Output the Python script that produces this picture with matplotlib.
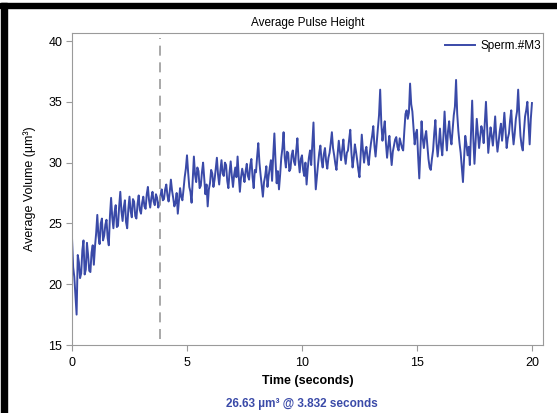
import numpy as np
import matplotlib.pyplot as plt
from matplotlib.patches import Rectangle

plt.rcParams['font.family'] = ['Liberation Sans', 'DejaVu Sans']

volume = [
    23.8, 21.4, 20.6, 19.0, 17.5, 22.4, 21.8, 20.5, 20.9, 22.8, 23.6, 20.8, 21.2, 23.4, 22.4, 21.1, 21.0, 22.6, 23.2, 21.6,
    23.1, 24.2, 25.7, 24.0, 23.3, 25.0, 25.4, 23.6, 24.0, 24.9, 25.3, 23.8, 23.2, 25.6, 27.1, 25.5, 24.6, 25.9, 26.5, 24.7,
    24.8, 26.4, 27.6, 26.0, 25.2, 26.3, 26.9, 25.1, 24.6, 26.2, 27.2, 26.0, 25.5, 27.0, 26.8, 25.6, 25.4, 26.6, 27.3, 26.1,
    25.8, 26.7, 27.2, 26.4, 26.2, 27.4, 28.0, 26.9, 26.3, 27.1, 27.6, 26.8, 26.5, 27.4, 27.1, 26.3, 26.6, 27.3, 27.8, 26.9,
    27.0, 27.8, 28.2, 27.3, 26.8, 27.6, 28.6, 27.7, 27.1, 26.4, 26.7, 27.5, 25.8, 26.9, 27.9, 27.2, 26.9, 27.8, 28.8, 29.5,
    30.6, 29.2, 28.0, 27.6, 26.7, 28.6, 30.5, 29.0, 28.4, 29.6, 29.3, 27.9, 28.1, 29.2, 30.0, 28.7, 27.4, 28.2, 26.4, 27.8,
    28.3, 29.4, 29.1, 28.0, 28.6, 29.5, 30.4, 29.0, 28.2, 29.3, 30.2, 29.1, 28.9, 30.0, 29.8, 28.5, 27.9, 29.2, 30.1, 28.9,
    28.0, 29.0, 29.6, 28.8, 30.5, 28.9, 27.6, 28.8, 29.5, 29.0, 28.4, 29.3, 29.9, 28.9, 28.6, 29.8, 30.3, 28.8, 27.9, 29.4,
    29.2, 30.5, 31.6, 30.0, 29.0, 28.1, 27.2, 28.4, 28.9, 29.7, 28.0, 28.9, 29.6, 30.2, 28.5, 30.6, 32.4, 30.1, 28.3, 29.3,
    27.8, 29.0, 30.4, 31.2, 32.5, 30.4, 29.6, 30.9, 30.8, 29.3, 29.5, 30.6, 31.0, 30.1, 29.8, 31.0, 32.0, 30.2, 29.2, 30.3,
    30.6, 29.4, 28.9, 30.0, 28.2, 29.5, 30.4, 31.0, 29.8, 31.6, 33.3, 30.0, 27.8, 28.9, 29.9, 30.8, 31.4, 30.2, 29.6, 30.7,
    31.2, 30.1, 29.5, 30.4, 30.8, 31.6, 32.5, 31.2, 30.6, 29.9, 29.4, 30.7, 31.8, 30.9, 30.2, 31.1, 31.9, 30.6, 29.9, 30.8,
    31.0, 31.9, 32.7, 30.8, 29.6, 30.4, 31.5, 30.9, 30.2, 29.4, 28.8, 30.6, 32.3, 31.0, 30.0, 30.9, 31.3, 30.4, 29.8, 30.8,
    31.6, 32.2, 33.0, 31.4, 30.5, 31.7, 32.8, 33.9, 36.0, 33.2, 31.8, 32.7, 33.4, 31.6, 30.4, 31.4, 32.2, 30.9, 29.8, 30.9,
    31.4, 31.9, 32.1, 31.3, 31.0, 32.0, 31.6, 31.2, 31.0, 32.6, 34.0, 34.3, 33.6, 34.1, 36.5, 34.8, 34.2, 32.8, 31.5, 32.4,
    32.7, 30.5, 28.7, 31.0, 33.4, 32.0, 31.2, 32.1, 32.6, 31.4, 30.3, 29.6, 29.4, 30.3, 31.0, 32.4, 33.5, 31.6, 30.5, 31.5,
    32.8, 31.4, 30.6, 32.2, 34.2, 32.3, 31.0, 32.6, 33.4, 32.1, 31.5, 32.7, 33.9, 34.6, 36.8, 34.0, 32.6, 31.6, 30.8, 29.6,
    28.4, 30.4, 32.2, 31.5, 30.6, 31.3, 29.8, 32.5, 35.1, 32.0, 29.9, 31.8, 33.6, 32.4, 31.2, 32.1, 33.0, 32.6, 31.6, 33.3,
    35.0, 32.9, 30.8, 31.9, 32.9, 32.2, 31.4, 32.5, 33.8, 32.0, 30.9, 31.7, 32.6, 33.2, 31.8, 32.8, 34.1, 32.6, 31.2, 32.0,
    32.4, 33.5, 34.3, 32.6, 31.5, 32.4, 33.6, 34.2, 36.0, 33.9, 32.2, 31.4, 31.0, 32.5, 33.8, 34.3, 35.0, 33.2, 31.5, 33.6,
    34.9,
]
time = np.arange(len(volume)) * 0.05

marker_t = 3.832
marker_v = 26.63

line_col = '#3a4aa8'
grey = '#9a9a9a'

fig = plt.figure(figsize=(5.57, 4.13), dpi=100)
ax = fig.add_axes([72 / 557, 1 - 345 / 413, 471 / 557, 312 / 413])

ax.plot(time, volume, color=line_col, lw=1.4, label='Sperm.#M3')
ax.axvline(marker_t, ymin=0.02, ymax=0.985, color=grey, lw=1.2, dashes=(6, 4))

ax.set_xlim(0, 20.48)
ax.set_ylim(15, 40.66)
ax.set_xticks([0, 5, 10, 15, 20])
ax.set_yticks([15, 20, 25, 30, 35, 40])
for s in ax.spines.values():
    s.set_color(grey)
ax.tick_params(direction='out', length=4, color=grey, labelsize=9)
ax.tick_params(axis='x', pad=5)
ax.tick_params(axis='y', pad=3)

ax.set_title('Average Pulse Height', fontsize=8.5, pad=5)
ax.set_xlabel('Time (seconds)', fontsize=9, fontweight='bold', labelpad=4)
ax.set_ylabel('Average Volume (µm³)', fontsize=9, labelpad=9)

ax.legend(loc='upper right', frameon=False, fontsize=8.5, handlelength=2.6,
          borderaxespad=0.2, handletextpad=0.4, bbox_to_anchor=(1.01, 1.0))

fig.text(302 / 557, 1 - 404 / 413, f'{marker_v} µm³ @ {marker_t} seconds',
         ha='center', va='center', fontsize=8.5, fontweight='bold', color=line_col)

# black screenshot border at top and left
fig.patches.append(Rectangle((0, 1 - 8 / 413), 1, 5 / 413, transform=fig.transFigure,
                             color='black', zorder=10))
fig.patches.append(Rectangle((1 / 557, 0), 6 / 557, 1 - 3 / 413, transform=fig.transFigure,
                             color='black', zorder=10))

fig.savefig('out.png', dpi=100)
